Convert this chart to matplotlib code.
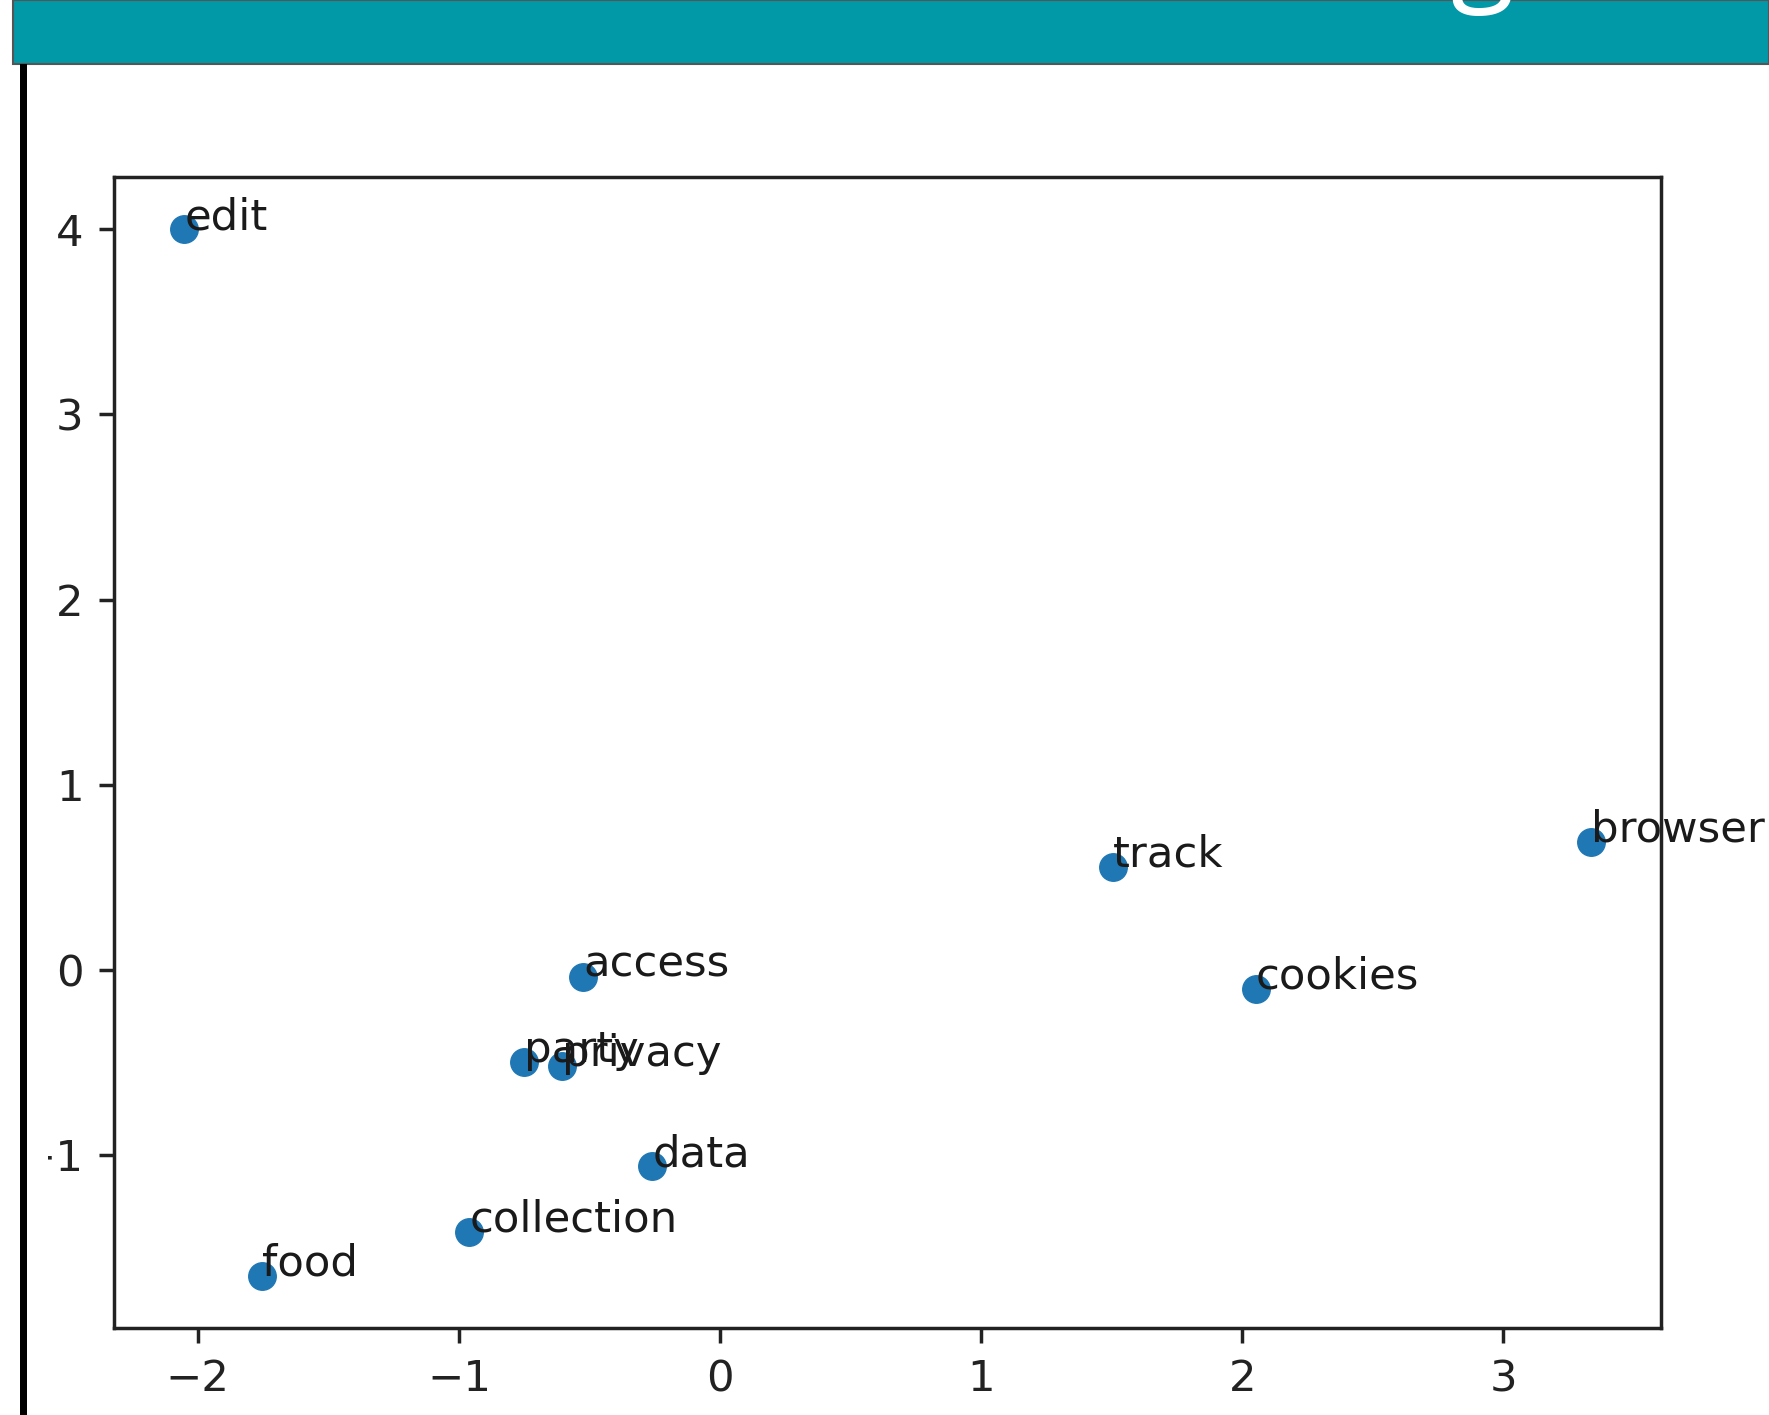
import matplotlib
matplotlib.use("Agg")
import matplotlib.pyplot as plt
from matplotlib.patches import Rectangle

# Word embedding coordinates (2-D projection)
words = ["edit", "food", "collection", "data", "party", "privacy",
         "access", "track", "cookies", "browser"]
xs = [-2.052, -1.753, -0.961, -0.260, -0.750, -0.607, -0.524, 1.503, 2.052, 3.334]
ys = [4.000, -1.653, -1.415, -1.061, -0.501, -0.519, -0.037, 0.556, -0.104, 0.690]

W, H = 1769, 1415
S = 3.12  # scale relative to a standard 100-dpi figure

fig = plt.figure(figsize=(W / 100, H / 100), dpi=100)
fig.patch.set_facecolor("white")

ax = fig.add_axes([114 / W, 1 - 1328 / H, (1661 - 114) / W, (1328 - 177) / H])
ax.scatter(xs, ys, s=36 * 3.3 * 3.3, color="#1f77b4", zorder=3)
for w, x, y in zip(words, xs, ys):
    ax.annotate(w, (x, y), fontsize=10 * S, color="#1a1a1a", annotation_clip=False)

for sp in ax.spines.values():
    sp.set_linewidth(0.8 * S)
    sp.set_color("#222222")
ax.tick_params(labelsize=10 * S, length=3.5 * S, width=0.8 * S, pad=3.5 * S,
               colors="#222222")
ax.set_xticks([-2, -1, 0, 1, 2, 3])
ax.set_yticks([-1, 0, 1, 2, 3, 4])

# Slide header bar
fig.patches.append(Rectangle((13 / W, 1 - 64 / H), 1 - 13 / W, 64 / H,
                             transform=fig.transFigure, facecolor="#0198a8",
                             edgecolor="#555555", linewidth=1.5, zorder=5))
fig.text(1482 / W, 1 + 12 / H, "g", fontsize=84, color="white",
         ha="center", va="baseline", family="Open Sans", zorder=6)

# White margin left of the chart image and the vertical rule
fig.patches.append(Rectangle((0, 0), 48 / W, 1 - 64 / H, transform=fig.transFigure,
                             facecolor="white", edgecolor="none", zorder=4))
fig.patches.append(Rectangle((20 / W, 0), 7 / W, 1 - 64 / H, transform=fig.transFigure,
                             facecolor="black", edgecolor="none", zorder=5))

fig.savefig("out.png", dpi=100)
